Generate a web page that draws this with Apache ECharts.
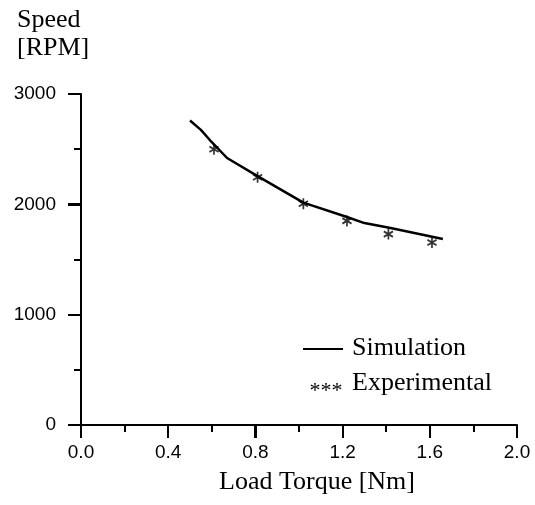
<!DOCTYPE html>
<html>
<head>
<meta charset="utf-8">
<script src="https://cdn.jsdelivr.net/npm/echarts@6/dist/echarts.min.js"></script>
<style>
html,body{margin:0;padding:0;background:#fff;}
#chart{width:535px;height:505px;}
</style>
</head>
<body>
<div id="chart"></div>
<script>
// Simulation curve (load torque [Nm], speed [RPM])
const simTorque = [0.50, 0.55, 0.59, 0.67, 0.81, 1.02, 1.22, 1.30, 1.42, 1.66];
const simSpeed  = [2760, 2675, 2585, 2420, 2255, 2015, 1885, 1830, 1785, 1685];
// Experimental points
const expTorque = [0.61, 0.81, 1.02, 1.22, 1.41, 1.61];
const expSpeed  = [2500, 2245, 2005, 1850, 1730, 1655];
// Axis ticks
const xTicks = [0.0, 0.4, 0.8, 1.2, 1.6, 2.0];
const yTicks = [0, 1000, 2000, 3000];
const xTitle = 'Load Torque [Nm]';
const yTitle = ['Speed', '[RPM]'];
const legendNames = ['Simulation', 'Experimental'];

const asterisk = 'path://M-0.8,-5 L0.8,-5 L0.8,5 L-0.8,5 Z ' +
  'M-4.73,-1.807 L-3.93,-3.193 L4.73,1.807 L3.93,3.193 Z ' +
  'M3.93,-3.193 L4.73,-1.807 L-3.93,3.193 L-4.73,1.807 Z';

const chart = echarts.init(document.getElementById('chart'));
const sans = 'Liberation Sans';
const serif = '"Liberation Serif", "Times New Roman", serif';
const xMin = xTicks[0], xMax = xTicks[xTicks.length - 1];
const yMin = yTicks[0], yMax = yTicks[yTicks.length - 1];
const MAJOR_LEN = 13;

function mainAxis(ticks, labelMargin, fmt) {
  return {
    type: 'value',
    min: ticks[0], max: ticks[ticks.length - 1], interval: ticks[1] - ticks[0],
    axisLine: {show: true, onZero: false, lineStyle: {color: '#000', width: 2}},
    axisTick: {show: true, length: MAJOR_LEN, lineStyle: {color: '#000', width: 2}},
    minorTick: {show: true, splitNumber: 2, length: 7, lineStyle: {color: '#000', width: 2}},
    splitLine: {show: false},
    axisLabel: {color: '#000', fontFamily: sans, fontSize: 19, margin: labelMargin, formatter: fmt}
  };
}

// major tick marks placed through the axis scales (api.coord)
function tickSeries(data, isX) {
  return {
    type: 'custom',
    silent: true,
    clip: false,
    z: 10,
    data: data,
    renderItem: function (params, api) {
      const p = api.coord([api.value(0), api.value(1)]);
      const x = Math.round(p[0]), y = Math.round(p[1]);
      const shape = isX ? {x1: x, y1: y, x2: x, y2: y + MAJOR_LEN}
                        : {x1: x, y1: y, x2: x - MAJOR_LEN, y2: y};
      return {type: 'line', shape: shape, style: {stroke: '#000', lineWidth: 2}};
    }
  };
}

chart.setOption({
  animation: false,
  grid: {left: 81, right: 18, top: 94, bottom: 80},
  xAxis: mainAxis(xTicks, 18, v => v.toFixed(1)),
  yAxis: mainAxis(yTicks, 25, v => String(v)),
  series: [
    {
      name: legendNames[0],
      type: 'line',
      data: simTorque.map((x, i) => [x, simSpeed[i]]),
      showSymbol: false,
      symbol: 'none',
      lineStyle: {color: '#000', width: 2.5}
    },
    {
      name: legendNames[1],
      type: 'scatter',
      data: expTorque.map((x, i) => [x, expSpeed[i]]),
      symbol: asterisk,
      symbolSize: [10, 11],
      itemStyle: {color: '#000'}
    },
    tickSeries(xTicks.map(v => [v, yMin]), true),
    tickSeries(yTicks.map(v => [xMin, v]), false)
  ],
  graphic: [
    {type: 'text', left: 17, top: 6,
      style: {text: yTitle.join('\n'), font: '26px ' + serif, fill: '#000', lineHeight: 28}},
    {type: 'text', x: 317, y: 495,
      style: {text: xTitle, font: '26px ' + serif, fill: '#000', textAlign: 'center', textVerticalAlign: 'bottom'}},
    {type: 'line', shape: {x1: 303, y1: 349, x2: 343, y2: 349}, style: {stroke: '#000', lineWidth: 2}},
    {type: 'text', x: 352, y: 348,
      style: {text: legendNames[0], font: '26px ' + serif, fill: '#000', textVerticalAlign: 'middle'}},
    {type: 'text', x: 326, y: 391,
      style: {text: '***', font: '22px ' + serif, fill: '#000', textAlign: 'center', textVerticalAlign: 'middle'}},
    {type: 'text', x: 352, y: 383,
      style: {text: legendNames[1], font: '26px ' + serif, fill: '#000', textVerticalAlign: 'middle'}}
  ]
});
</script>
</body>
</html>
